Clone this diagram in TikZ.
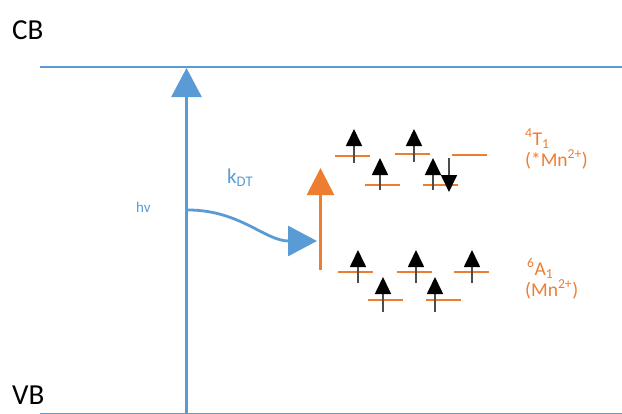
\documentclass[tikz,border=0pt]{standalone}
\usepackage{fontspec}
\setmainfont{Carlito}
\usetikzlibrary{arrows.meta}

\definecolor{blau}{RGB}{91,155,213}
\definecolor{mnorange}{RGB}{237,125,49}

\begin{document}
\begin{tikzpicture}[x=1pt,y=-1pt,
    band/.style={draw=blau, line width=2.8pt},
    anregung/.style={draw=blau, line width=2.8pt,
      -{Triangle[length=29pt,width=30pt]}},
    uebertrag/.style={draw=mnorange, line width=2.8pt,
      -{Triangle[length=27pt,width=27pt]}},
    niveau/.style={fill=mnorange, inner sep=0pt,
      minimum width=35pt, minimum height=2.8pt},
    spin/.style={draw=black!70, line width=1.7pt,
      -{Triangle[length=17pt,width=16pt,color=black]}},
    schrift/.style={inner sep=0pt, anchor=base west},
    gross/.style={schrift, font=\fontsize{29}{35}\selectfont},
    blautext/.style={schrift, text=blau},
    mntext/.style={schrift, text=mnorange, font=\fontsize{19.5}{23}\selectfont}
    ]

  \useasboundingbox (0,0) rectangle (622,413);

  % Baender
  \node at (12,39) (cb) [gross] {CB};
  \node at (12,404) (vb) [gross] {VB};
  \coordinate (cblinks) at (40,67);
  \coordinate (cbrechts) at (622,67);
  \coordinate (vblinks) at (40,414.5);
  \coordinate (vbrechts) at (622,414.5);
  \draw[band] (cblinks) -- (cbrechts);
  \draw[band] (vblinks) -- (vbrechts);

  % Anregung und Uebertrag
  \coordinate (hvfuss) at (186.5,414);
  \coordinate (hvspitze) at (186.5,68);
  \draw[anregung] (hvfuss) -- (hvspitze);
  \node at (136,212) (hv) [blautext, font=\fontsize{15}{18}\selectfont] {hv};

  \coordinate (kstart) at (188,210);
  \coordinate (kziel) at (317,241);
  \draw[anregung] (kstart) to[out=0,in=180] (kziel);
  \node at (227,183) (kdt) [blautext, font=\fontsize{21}{25}\selectfont] {k\textsubscript{DT}};

  \coordinate (mnfuss) at (320.5,270);
  \coordinate (mnspitze) at (320.5,168);
  \draw[uebertrag] (mnfuss) -- (mnspitze);

  % Niveaus
  \foreach \niv/\x/\y in {t1a/352.5/156, t1b/412.5/154, t1c/469.5/155,
                          t1d/382.5/185, t1e/440.5/185,
                          a1a/355/272, a1b/414.5/272, a1c/471.5/272,
                          a1d/385/300, a1e/443.5/300}
    \node at (\x,\y) (\niv) [niveau] {};

  % Spins
  \foreach \niv/\dx/\unten/\oben in {t1a/1.5/7/27, t1b/1.5/8/25, t1d/-2.5/5/27,
                                     t1e/-7.5/5/27, a1a/3/11/22, a1b/1.5/11/22,
                                     a1c/0.5/11/22, a1d/-2/12/23, a1e/-8.5/12/23}
    \draw[spin] ([xshift=\dx pt,yshift=-\unten pt]\niv.center)
             -- ([xshift=\dx pt,yshift=\oben pt]\niv.center);
  \draw[spin] ([xshift=8.5pt,yshift=27pt]t1e.center) -- ([xshift=8.5pt,yshift=-7pt]t1e.center);

  % Zustaende
  \node at (525,145) (t1name) [mntext] {\textsuperscript{4}T\textsubscript{1}};
  \node at (525,166.5) (t1mn) [mntext] {(*Mn\textsuperscript{2+})};
  \node at (527,275) (a1name) [mntext] {\textsuperscript{6}A\textsubscript{1}};
  \node at (525,296) (a1mn) [mntext] {(Mn\textsuperscript{2+})};

\end{tikzpicture}
\end{document}
